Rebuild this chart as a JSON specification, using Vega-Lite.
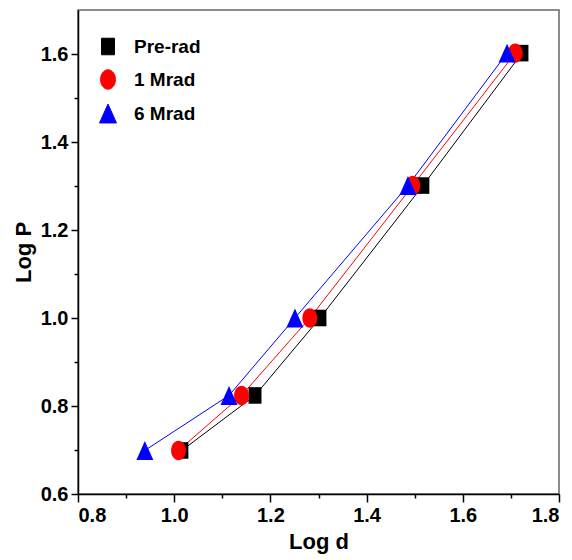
{
  "$schema": "https://vega.github.io/schema/vega-lite/v6.json",
  "width": 481,
  "height": 484,
  "autosize": "none",
  "padding": {"left": 78, "top": 10, "right": 13, "bottom": 66},
  "background": "white",
  "config": {
    "font": "Liberation Sans",
    "view": {"stroke": "#666666", "strokeWidth": 1.5},
    "axis": {
      "grid": false,
      "domainColor": "black",
      "domainWidth": 1.5,
      "tickColor": "black",
      "tickWidth": 1.5,
      "labelFont": "Liberation Sans",
      "labelFontSize": 20,
      "labelFontWeight": "bold",
      "labelColor": "black",
      "labelPadding": 3,
      "titleFont": "Liberation Sans",
      "titleFontSize": 22,
      "titleFontWeight": "bold",
      "titleColor": "black"
    },
    "legend": {
      "title": null,
      "orient": "none",
      "legendX": 20.5,
      "legendY": 27,
      "labelFont": "Liberation Sans",
      "labelFontSize": 19,
      "labelFontWeight": "bold",
      "labelColor": "black",
      "labelOffset": 16.5,
      "rowPadding": 10,
      "symbolSize": 324,
      "symbolStrokeWidth": 1
    }
  },
  "data": {
    "values": [
      {"series": "Pre-rad", "logd": 1.016, "logp": 0.699},
      {"series": "Pre-rad", "logd": 1.168, "logp": 0.824},
      {"series": "Pre-rad", "logd": 1.303, "logp": 1.0},
      {"series": "Pre-rad", "logd": 1.517, "logp": 1.301},
      {"series": "Pre-rad", "logd": 1.723, "logp": 1.602},
      {"series": "1 Mrad", "logd": 1.009, "logp": 0.699},
      {"series": "1 Mrad", "logd": 1.140, "logp": 0.824},
      {"series": "1 Mrad", "logd": 1.282, "logp": 1.0},
      {"series": "1 Mrad", "logd": 1.496, "logp": 1.301},
      {"series": "1 Mrad", "logd": 1.709, "logp": 1.602},
      {"series": "6 Mrad", "logd": 0.939, "logp": 0.699},
      {"series": "6 Mrad", "logd": 1.114, "logp": 0.824},
      {"series": "6 Mrad", "logd": 1.251, "logp": 1.0},
      {"series": "6 Mrad", "logd": 1.486, "logp": 1.301},
      {"series": "6 Mrad", "logd": 1.692, "logp": 1.602}
    ]
  },
  "encoding": {
    "x": {
      "field": "logd",
      "type": "quantitative",
      "scale": {"domain": [0.8, 1.8], "nice": false, "zero": false},
      "axis": {
        "title": "Log d",
        "titlePadding": 6,
        "values": [0.8, 0.9, 1.0, 1.1, 1.2, 1.3, 1.4, 1.5, 1.6, 1.7, 1.8],
        "labelExpr": "round(datum.value*10) % 2 == 0 ? format(datum.value, '.1f') : ''",
        "tickSize": {"condition": {"test": "round(datum.value*10) % 2 == 0", "value": 8}, "value": 4}
      }
    },
    "y": {
      "field": "logp",
      "type": "quantitative",
      "scale": {"domain": [0.6, 1.7], "nice": false, "zero": false},
      "axis": {
        "title": "Log P",
        "titlePadding": 5,
        "values": [0.6, 0.7, 0.8, 0.9, 1.0, 1.1, 1.2, 1.3, 1.4, 1.5, 1.6],
        "labelExpr": "round(datum.value*10) % 2 == 0 ? format(datum.value, '.1f') : ''",
        "tickSize": {"condition": {"test": "round(datum.value*10) % 2 == 0", "value": 7}, "value": 4}
      }
    }
  },
  "layer": [
    {
      "mark": {"type": "line", "strokeWidth": 1},
      "encoding": {
        "color": {
          "field": "series",
          "type": "nominal",
          "scale": {"domain": ["Pre-rad", "1 Mrad", "6 Mrad"], "range": ["#000000", "#ff0000", "#0000ff"]}
        }
      }
    },
    {
      "mark": {"type": "point", "filled": true, "size": 324, "opacity": 1},
      "encoding": {
        "color": {
          "field": "series",
          "type": "nominal",
          "scale": {"domain": ["Pre-rad", "1 Mrad", "6 Mrad"], "range": ["#000000", "#ff0000", "#0000ff"]}
        },
        "shape": {
          "field": "series",
          "type": "nominal",
          "scale": {
            "domain": ["Pre-rad", "1 Mrad", "6 Mrad"],
            "range": [
              "M-0.72,-0.92H0.72V0.92H-0.72Z",
              "M0,-1.08A0.83,1.08 0 1,1 0,1.08A0.83,1.08 0 1,1 0,-1.08Z",
              "M0,-1.05L0.94,1.05H-0.94Z"
            ]
          }
        }
      }
    }
  ]
}
